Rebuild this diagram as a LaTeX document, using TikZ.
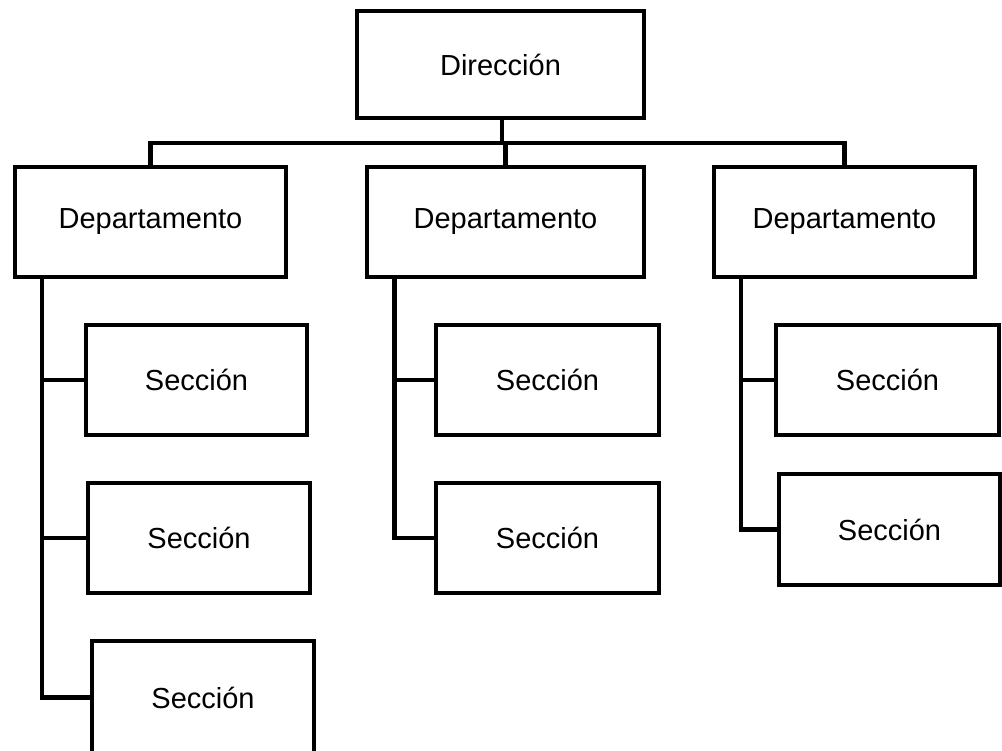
\documentclass[tikz,border=0pt]{standalone}
\usepackage{fontspec}
\setmainfont{Liberation Sans}
\begin{document}
\begin{tikzpicture}[x=1pt,y=-1pt,
  box/.style={draw=black, line width=4.7pt, rectangle, inner sep=0pt,
    fill=white, font=\fontsize{29}{34}\selectfont},
  link/.style={draw=black, line width=4.7pt, line join=miter}]
\useasboundingbox (0,0) rectangle (1002,751);
% top level
\node[box, minimum width=287pt, minimum height=107pt] (dir) at (500.5,64.5) {Dirección};
% departments
\node[box, minimum width=271pt, minimum height=110pt] (dL) at (150.5,222) {Departamento};
\node[box, minimum width=277pt, minimum height=110pt] (dM) at (505.5,222) {Departamento};
\node[box, minimum width=261pt, minimum height=110pt] (dR) at (844.5,222) {Departamento};
% sections
\node[box, minimum width=221pt, minimum height=110pt] (sL1) at (196.5,380) {Sección};
\node[box, minimum width=222pt, minimum height=110pt] (sL2) at (199,538) {Sección};
\node[box, minimum width=222pt, minimum height=113pt] (sL3) at (203,697.5) {Sección};
\node[box, minimum width=223pt, minimum height=110pt] (sM1) at (547.5,380) {Sección};
\node[box, minimum width=223pt, minimum height=110pt] (sM2) at (547.5,538) {Sección};
\node[box, minimum width=223pt, minimum height=110pt] (sR1) at (887.5,380) {Sección};
\node[box, minimum width=221pt, minimum height=111pt] (sR2) at (889.5,529.5) {Sección};
% bus lines
\coordinate (bus) at (502,143);
\coordinate (lbus) at (42,277);
\coordinate (mbus) at (394.5,277);
\coordinate (rbus) at (741,277);
% direction to departments
\draw[link] ([xshift=1.5pt]dir.south) -- ([xshift=1.5pt]dir.south |- bus);
\draw[link] (dL.north) -- (dL.north |- bus) -- (dR.north |- bus) -- (dR.north);
\draw[link] (dM.north) -- (dM.north |- bus);
% departments to sections
\draw[link] (lbus) |- (sL3.west);
\draw[link] (lbus |- sL1.west) -- (sL1.west);
\draw[link] (lbus |- sL2.west) -- (sL2.west);
\draw[link] (mbus) |- (sM2.west);
\draw[link] (mbus |- sM1.west) -- (sM1.west);
\draw[link] (rbus) |- (sR2.west);
\draw[link] (rbus |- sR1.west) -- (sR1.west);
\end{tikzpicture}
\end{document}
